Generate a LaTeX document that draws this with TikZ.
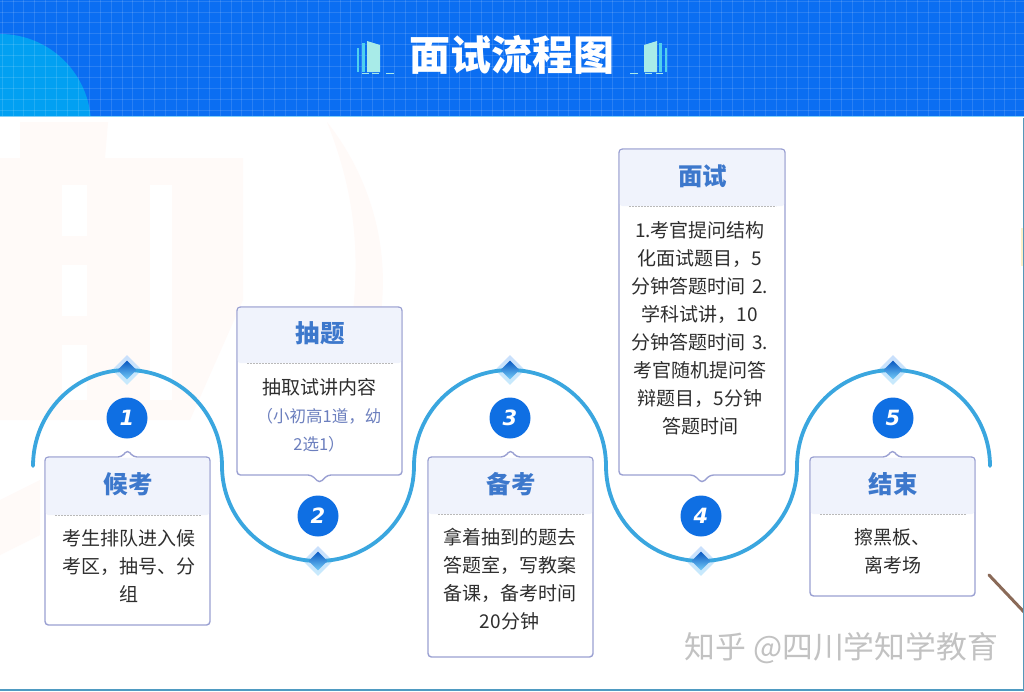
\documentclass[tikz,border=0pt]{standalone}
\usepackage{fontspec}
\setmainfont{Noto Sans CJK SC}
\newfontfamily\digitfont[BoldFont=DejaVu Sans Bold]{DejaVu Sans}
\usetikzlibrary{shapes.geometric,calc}
\definecolor{headblue}{HTML}{0B6EF2}
\definecolor{headcyan}{HTML}{02A0F2}
\definecolor{wave}{HTML}{3AA6DF}
\definecolor{cardedge}{HTML}{9AA0D2}
\definecolor{cardhead}{HTML}{F0F3FC}
\definecolor{titleblue}{HTML}{3D78CC}
\definecolor{bodytext}{HTML}{2E2E2E}
\definecolor{notetext}{HTML}{6C7FBE}
\definecolor{badge}{HTML}{0F6FE3}
\definecolor{pink}{HTML}{FFFAF8}
\definecolor{stick}{HTML}{8A6A58}
\definecolor{booklight}{HTML}{A8EBE8}
\definecolor{bookdark}{HTML}{4FD0EE}
\definecolor{edgeyellow}{HTML}{FCF0C8}
\tikzset{
  card/.style={draw=cardedge,line width=1.4pt,rounded corners=3.5pt,fill=white},
  cardtitle/.style={font=\fontsize{24.5}{24}\selectfont\bfseries,text=titleblue,anchor=center,inner sep=0pt},
  cardbody/.style={font=\fontsize{19}{28}\selectfont,text=bodytext,align=center,anchor=north,inner sep=0pt,text width=150pt},
  numbadge/.style={circle,fill=badge,minimum size=41pt,inner sep=0pt,text=white,font=\digitfont\fontsize{21}{21}\selectfont\bfseries},
  glowd/.style={diamond,top color=headblue!22,bottom color=headcyan!22,minimum size=30pt,inner sep=0pt},
  cored/.style={diamond,top color=headblue!80!black,bottom color=headcyan!55,minimum size=19pt,inner sep=0pt},
  wavepath/.style={draw=wave,line width=3.8pt,line cap=round},
  sep/.style={draw=gray!55,line width=.8pt,dash pattern=on 2pt off 1pt},
  bars/.style={fill=#1,draw=none},
  dashline/.style={draw=#1,line width=1.4pt}
}
% card: #1 name, #2 x0, #3 y0, #4 x1, #5 y1, #6 tip y, #7 header bottom, #8 title
\newcommand{\flowcard}[8]{%
  \pgfmathsetmacro{\cx}{(#2+#4)/2}
  \ifdim #6pt<#3pt
    \path[card,fill=white] (#2,#3) -- (\cx-6,#3) -- (\cx,#6) -- (\cx+6,#3) -- (#4,#3) -- (#4,#5) -- (#2,#5) -- cycle;
  \else
    \path[card,fill=white] (#2,#3) -- (#4,#3) -- (#4,#5) -- (\cx+8,#5) -- (\cx,#6) -- (\cx-8,#5) -- (#2,#5) -- cycle;
  \fi
  \fill[cardhead,rounded corners=2.5pt] (#2+.8,#3+.8) rectangle (#4-.8,#7);
  \draw[sep] (#2+10,#7) -- (#4-9,#7);
  \node[cardtitle] (#1) at (\cx+.5,{(#3+#7)/2-1.5}) {#8};
}
\begin{document}
\begin{tikzpicture}[x=1pt,y=-1pt]
\useasboundingbox (0,0) rectangle (1024,691);
\fill[white] (0,0) rectangle (1024,691);
% faint background
\fill[pink] (20,122) -- (108,122) -- (105,158) -- (243,158) -- (243,300) -- (190,420) -- (0,420) -- (0,158) -- (20,158) -- cycle;
\fill[pink] (0,500) -- (40,480) -- (40,535) -- (0,555) -- cycle;
\fill[white] (62,185) rectangle (87,236);
\fill[white] (62,265) rectangle (87,316);
\fill[white] (62,345) rectangle (87,400);
\fill[white] (150,185) rectangle (172,400);
\fill[pink] (327,122) .. controls (365,170) and (392,240) .. (380,320) -- (352,320) .. controls (362,240) and (350,180) .. (327,122) -- cycle;
\fill[edgeyellow] (1021,228) rectangle (1024,266);
% header
\fill[headblue] (0,0) rectangle (1024,116);
\begin{scope}
\clip (0,0) rectangle (1024,116);
\fill[headcyan] (0,125) circle (91);
\foreach \g in {0,1,...,94}{\draw[white,opacity=.13,line width=.7pt] ({\g*10.9+2},0) -- ({\g*10.9+2},116);}
\foreach \g in {0,1,...,11}{\draw[white,opacity=.13,line width=.7pt] (0,{\g*10.9+1}) -- (1024,{\g*10.9+1});}
\end{scope}
\draw[headcyan!50!white,line width=1.2pt] (0,116.6) -- (1024,116.6);
\node[font=\fontsize{41}{41}\selectfont\bfseries,text=white,inner sep=0pt] (title) at (511.5,55) {面试流程图};
% book icons
\fill[bars=bookdark] (357,48) rectangle (359,72);
\fill[bars=bookdark] (362,43) rectangle (365,72);
\fill[bars=booklight] (367,41) -- (380,45) -- (380,72) -- (367,72) -- cycle;
\foreach \a/\b in {362/369,372/379,386/394}{\draw[dashline=booklight] (\a,73.5) -- (\b,73.5);}
\fill[bars=bookdark] (665,48) rectangle (667,72);
\fill[bars=bookdark] (659,43) rectangle (662,72);
\fill[bars=booklight] (657,41) -- (644,45) -- (644,72) -- (657,72) -- cycle;
\foreach \a/\b in {630/638,645/652,656/663}{\draw[dashline=booklight] (\a,73.5) -- (\b,73.5);}
% wave
\coordinate (w0) at (33,466);
\coordinate (w1) at (222,466);
\coordinate (w2) at (414,466);
\coordinate (w3) at (606,466);
\coordinate (w4) at (797,466);
\coordinate (w5) at (990,466);
\foreach \nm/\x/\y in {d1/127/370,d2/318/561,d3/510/370,d4/701/561,d5/893/370}{\coordinate (\nm) at (\x,\y);}
\foreach \nm in {d1,d2,d3,d4,d5}{\node[glowd] at (\nm) {};}
\draw[wavepath] (w0) to[out=90,in=180] (d1) to[out=0,in=90] (w1) to[out=-90,in=180] (d2) to[out=0,in=-90] (w2) to[out=90,in=180] (d3) to[out=0,in=90] (w3) to[out=-90,in=180] (d4) to[out=0,in=-90] (w4) to[out=90,in=180] (d5) to[out=0,in=90] (w5);
\foreach \nm in {d1,d2,d3,d4,d5}{\node[cored] at (\nm) {};}
% badges
\node[numbadge] (n1) at (127,418) {\textit{1}};
\node[numbadge] (n2) at (318,516) {\textit{2}};
\node[numbadge] (n3) at (510,418) {\textit{3}};
\node[numbadge] (n4) at (701,516) {\textit{4}};
\node[numbadge] (n5) at (893,418) {\textit{5}};
% cards
\flowcard{c1}{45}{457}{210}{625}{450}{515}{候考}
\node[cardbody] (b1) at (128.5,529.5) {考生排队进入候\\考区，抽号、分\\组};
\flowcard{c2}{237}{307}{402}{475}{483}{363}{抽题}
\node[cardbody] (b2) at (319,378.5) {抽取试讲内容\\{\fontsize{16.5}{28}\selectfont\color{notetext}（小初高1道，幼\\2选1）}};
\flowcard{c3}{428}{457}{593}{657}{450}{514}{备考}
\node[cardbody] (b3) at (509.5,527.5) {拿着抽到的题去\\答题室，写教案\\备课，备考时间\\20分钟};
\flowcard{c4}{619}{149}{785}{475}{483}{206}{面试}
\node[cardbody] (b4) at (700,221.5) {1.考官提问结构\\化面试题目，5\\分钟答题时间 2.\\学科试讲，10\\分钟答题时间 3.\\考官随机提问答\\辩题目，5分钟\\答题时间};
\flowcard{c5}{810}{457}{975}{596}{450}{514}{结束}
\node[cardbody] (b5) at (888.5,528.5) {\hspace*{8pt}擦黑板、\\\hspace*{8pt}离考场};
% stick and frame
\draw[stick,line width=3pt,line cap=round] (989,575) -- (1024,612);
\draw[wave!70!gray,line width=1.4pt] (0,690) -- (1024,690);
\draw[wave!60!gray,line width=1pt] (1023.5,118) -- (1023.5,690);
% watermark
\node[font=\fontsize{30.8}{30}\selectfont,text=gray!48,inner sep=0pt,anchor=east] (mark) at (998,648) {知乎 @四川学知学教育};
\end{tikzpicture}
\end{document}
